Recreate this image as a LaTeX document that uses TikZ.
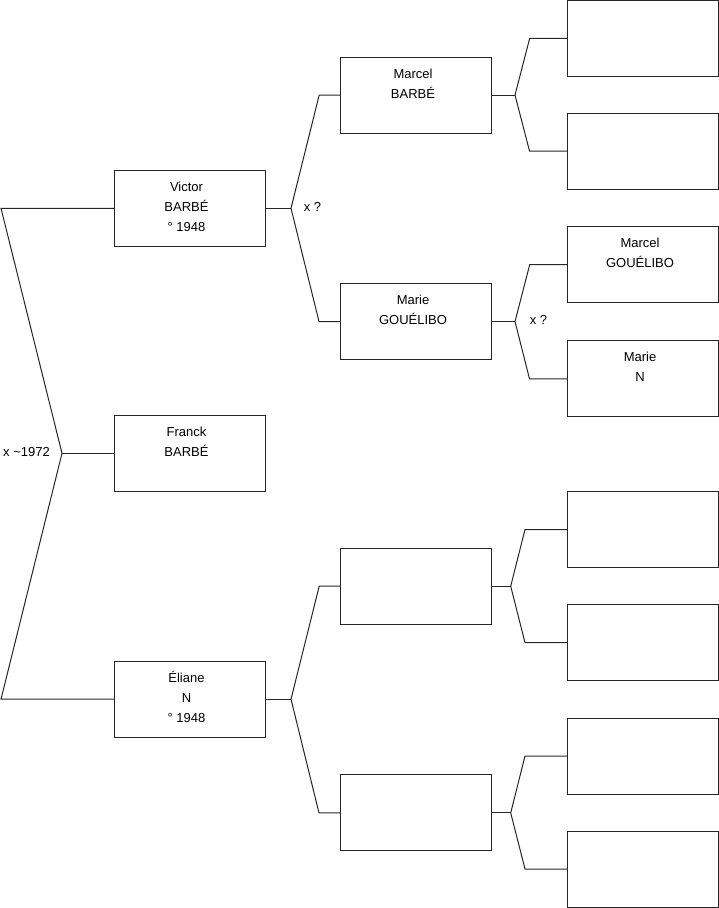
\documentclass[tikz,border=0pt]{standalone}
\usepackage{fontspec}
\setmainfont{Liberation Sans}
\newcommand{\famtext}[2]{%
  \foreach \t [count=\i] in {#2} {%
    \node[txt] at ([xshift=-3pt,yshift={-16.5pt-20pt*(\i-1)}]#1.north) {\t};}}
\begin{document}
\begin{tikzpicture}[x=1pt,y=-1pt,
  box/.style={draw=black!85, line width=1pt, minimum width=151pt, minimum height=76pt, inner sep=0pt, outer sep=0pt},
  ln/.style={draw=black!85, line width=1pt},
  txt/.style={font=\fontsize{13}{15}\selectfont, inner sep=0pt, text height=9.3pt, text depth=0pt},
  lab/.style={font=\fontsize{13}{15}\selectfont, inner sep=0pt}]
\useasboundingbox (0,0) rectangle (719,908);
% column 1
\node[box] (v) at (189.5,208.3) {};
\node[box] (f) at (189.5,453.3) {};
\node[box] (e) at (189.5,699.2) {};
% column 2
\node[box] (m1) at (416,95) {};
\node[box] (m2) at (416,321.5) {};
\node[box] (m3) at (416,586.2) {};
\node[box] (m4) at (416,812.9) {};
% column 3
\node[box] (g1) at (643,38.3) {};
\node[box] (g2) at (643,151) {};
\node[box] (g3) at (643,264.7) {};
\node[box] (g4) at (643,378.8) {};
\node[box] (g5) at (643,529.5) {};
\node[box] (g6) at (643,642.7) {};
\node[box] (g7) at (643,756) {};
\node[box] (g8) at (643,869) {};
% texts
\famtext{v}{Victor,BARBÉ,° 1948}
\famtext{f}{Franck,BARBÉ}
\famtext{e}{Éliane,N,° 1948}
\famtext{m1}{Marcel,BARBÉ}
\famtext{m2}{Marie,GOUÉLIBO}
\famtext{g3}{Marcel,GOUÉLIBO}
\famtext{g4}{Marie,N}
% fork coordinates
\coordinate (r0) at (62,453.3);
\coordinate (ra) at (1,208.3);
\coordinate (rb) at (1,699.2);
\coordinate (vv) at (291,208.3);
\coordinate (ve) at (291,699.2);
\coordinate (k1) at (515,95);
\coordinate (k2) at (515,321.5);
\coordinate (k3) at (510.7,586.2);
\coordinate (k4) at (510.7,812.9);
% root fork
\draw[ln] (f.west) -- (r0);
\draw[ln] (v.west) -- (ra) -- (r0) -- (rb) -- (e.west);
% column 1 to 2
\draw[ln] (v.east) -- (vv);
\draw[ln] (m1.west) -- ++(-21.3,0) -- (vv) -- (319,321.5) -- (m2.west);
\draw[ln] (e.east) -- (ve);
\draw[ln] (m3.west) -- ++(-21.3,0) -- (ve) -- (319,812.9) -- (m4.west);
% column 2 to 3
\draw[ln] (m1.east) -- (k1);
\draw[ln] (g1.west) -- ++(-37.8,0) -- (k1) -- (529.5,151) -- (g2.west);
\draw[ln] (m2.east) -- (k2);
\draw[ln] (g3.west) -- ++(-37.8,0) -- (k2) -- (529.5,378.8) -- (g4.west);
\draw[ln] (m3.east) -- (k3);
\draw[ln] (g5.west) -- ++(-42.5,0) -- (k3) -- (525,642.7) -- (g6.west);
\draw[ln] (m4.east) -- (k4);
\draw[ln] (g7.west) -- ++(-42.5,0) -- (k4) -- (525,869) -- (g8.west);
% marriage labels
\node[lab] (l0) at (26.5,452) {x \textasciitilde1972};
\node[lab] (l1) at (312.5,207) {x ?};
\node[lab] (l2) at (538.5,320) {x ?};
\end{tikzpicture}
\end{document}
